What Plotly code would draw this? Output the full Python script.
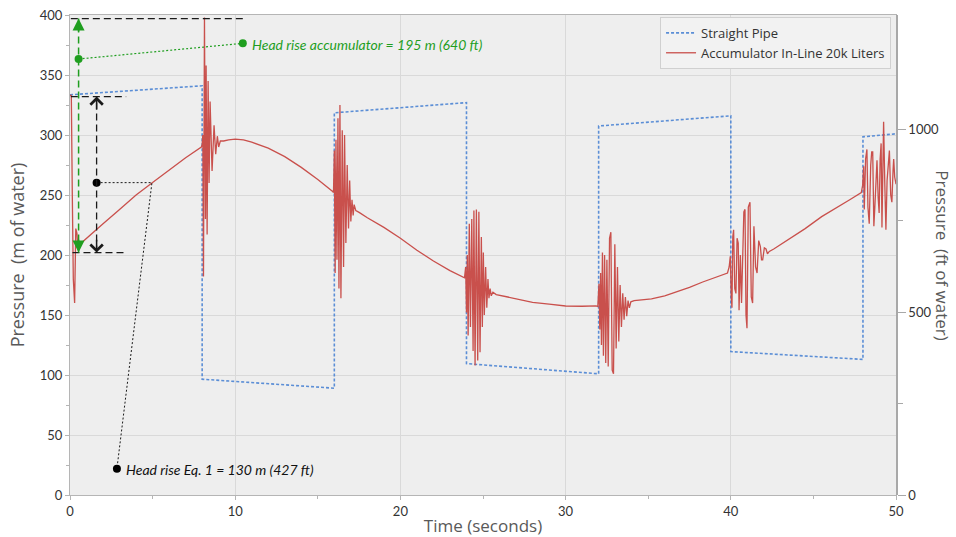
import plotly.graph_objects as go

# ---------------- data ----------------
# Straight pipe: head (m of water) vs time (s)
pipe_time = [0, 8, 8, 16, 16, 24, 24, 32, 32, 40, 40, 48, 48, 50]
pipe_head = [333.5, 341, 96.5, 89, 318.5, 327, 109.5, 101, 307.5, 316, 119.5, 113, 298.5, 301]

# Accumulator in-line 20k liters: head (m of water) vs time (s), segment by segment
acc_t_start = [0, 0.08, 0.14, 0.2, 0.28, 0.35, 0.42, 0.48, 0.6, 1, 2, 3, 4, 5, 6, 7, 7.95]
acc_h_start = [333, 333, 250, 180, 160, 222, 218, 204, 209, 214, 226, 238, 250, 260.5, 271, 281, 290]

acc_t_8 = [8.0, 8.04, 8.08, 8.14, 8.2, 8.24, 8.3, 8.36, 8.42, 8.48, 8.6, 8.72, 8.82, 8.92, 9.0, 9.1,
           9.3, 9.6, 10, 10.5, 11, 12, 13, 14, 15, 15.9]
acc_h_8 = [292, 300, 182, 398, 230, 358, 217, 345, 260, 328, 270, 308, 284, 299, 290, 295,
           295, 296, 296.5, 296, 294, 289, 282, 273, 263, 253]

acc_t_16 = [15.95, 16.0, 16.05, 16.1, 16.16, 16.22, 16.28, 16.34, 16.4, 16.48, 16.56, 16.62, 16.7,
            16.78, 16.86, 16.93, 17.0, 17.07, 17.14, 17.2, 17.3, 17.5, 18, 19, 20, 21, 22, 23, 23.88]
acc_h_16 = [252, 287, 185, 296, 196, 314, 172, 325, 164, 304, 190, 300, 210,
            275, 222, 262, 228, 246, 233, 242, 237, 235.5, 231, 223, 214, 204, 195, 187, 181]

acc_t_24 = [23.95, 24.0, 24.05, 24.1, 24.17, 24.24, 24.32, 24.4, 24.45, 24.52, 24.6, 24.68, 24.75,
            24.82, 24.9, 24.96, 25.02, 25.08, 25.16, 25.23, 25.3, 25.36, 25.43, 25.5, 25.6, 25.8,
            26.5, 27.3, 28, 29, 30, 31, 31.85]
acc_h_24 = [190, 152, 200, 133, 226, 140, 230, 120, 237, 108, 238, 112, 236,
            119, 215, 140, 202, 150, 190, 156, 180, 164, 172, 166, 169, 167,
            165, 162.5, 160.5, 159, 157.5, 157.3, 157.6]

acc_t_32 = [31.95, 32.02, 32.07, 32.12, 32.17, 32.23, 32.29, 32.36, 32.43, 32.5, 32.58, 32.66, 32.74,
            32.82, 32.9, 32.98, 33.06, 33.14, 33.22, 33.3, 33.38, 33.46, 33.54, 33.62, 33.7, 33.78,
            33.86, 33.95, 34.15, 35.2, 36, 36.8, 37.5, 38.3, 39, 39.8]
acc_h_32 = [157, 176, 138, 185, 125, 202, 116, 200, 110, 196, 107, 214, 219,
            104, 101, 209, 122, 190, 128, 175, 140, 168, 146, 165, 149, 162,
            156, 161, 162, 163.5, 166, 169.7, 173, 177.5, 181, 185]

acc_t_40 = [39.9, 39.97, 40.03, 40.07, 40.12, 40.17, 40.24, 40.31, 40.38, 40.45, 40.5, 40.58, 40.65,
            40.72, 40.79, 40.86, 40.92, 40.98, 41.06, 41.16, 41.24, 41.32, 41.4, 41.5, 41.59, 41.69,
            41.79, 41.86, 41.93, 42.03, 42.13, 42.22, 42.33, 42.6, 43.5, 44.5, 45.5, 46.5, 47.2, 47.9]
acc_h_40 = [190, 199, 165, 156, 215, 221, 172, 168, 214, 210, 154, 200, 160,
            190, 236, 238, 150, 139, 240, 244, 165, 160, 224, 190, 185, 212,
            207, 196, 196, 206, 205, 201, 203, 205, 213, 222, 232, 240, 246, 252]

acc_t_48 = [47.98, 48.04, 48.08, 48.16, 48.24, 48.3, 48.38, 48.47, 48.53, 48.59, 48.66, 48.72, 48.8,
            48.85, 48.92, 48.98, 49.04, 49.1, 49.15, 49.2, 49.25, 49.32, 49.39, 49.46, 49.53, 49.6,
            49.68, 49.75, 49.82, 49.86, 49.92, 50.0]
acc_h_48 = [258, 274, 238, 280, 288, 240, 226, 275, 286, 286, 224, 240, 270,
            279, 248, 235, 280, 293, 223, 270, 311, 260, 221, 262, 280, 287,
            250, 244, 270, 280, 265, 259]

acc_time = acc_t_start + acc_t_8 + acc_t_16 + acc_t_24 + acc_t_32 + acc_t_40 + acc_t_48
acc_head = acc_h_start + acc_h_8 + acc_h_16 + acc_h_24 + acc_h_32 + acc_h_40 + acc_h_48

# Head-rise call-outs (m of water)
base_head = 202
head_rise_eq1 = 130       # 427 ft
head_rise_acc = 195       # 640 ft

M_TO_FT = 1 / 0.3048
Y_MAX = 400

GREEN = "#1f9e1f"
BLACK = "#1a1a1a"
BLUE = "#5b8ed6"
RED = "#c9504c"

fig = go.Figure()

fig.add_trace(go.Scatter(
    x=pipe_time, y=pipe_head, mode="lines", name="Straight Pipe",
    line=dict(color=BLUE, width=1.6, dash="3px,2px"),
))
fig.add_trace(go.Scatter(
    x=acc_time, y=acc_head, mode="lines", name="Accumulator In-Line 20k Liters",
    line=dict(color=RED, width=1.3),
))

# dummy trace on the secondary (ft) axis so it is rendered
fig.add_trace(go.Scatter(x=[None], y=[None], yaxis="y2", showlegend=False, hoverinfo="skip"))

# ---- head-rise call-outs ----
acc_x = 0.52
eq_x = 1.61
acc_top = base_head + head_rise_acc
eq_top = base_head + head_rise_eq1
dash_long = "7px,4px"

shapes = [
    # reference levels
    dict(type="line", x0=0.05, x1=10.46, y0=acc_top, y1=acc_top, line=dict(color=BLACK, width=1.3, dash=dash_long)),
    dict(type="line", x0=0.05, x1=3.4, y0=eq_top, y1=eq_top, line=dict(color=BLACK, width=1.3, dash=dash_long)),
    dict(type="line", x0=0.15, x1=3.4, y0=base_head, y1=base_head, line=dict(color=BLACK, width=1.3, dash=dash_long)),
    # double-arrow shafts
    dict(type="line", x0=acc_x, x1=acc_x, y0=base_head, y1=acc_top, line=dict(color=GREEN, width=1.5, dash=dash_long)),
    dict(type="line", x0=eq_x, x1=eq_x, y0=base_head, y1=eq_top, line=dict(color=BLACK, width=1.3, dash=dash_long)),
]

# leader lines to the labels
eq_dot = (eq_x, 260.3)
eq_label = (2.84, 21.9)
acc_dot = (acc_x, 363.3)
acc_label = (10.46, 376.4)

fig.add_trace(go.Scatter(
    x=[eq_dot[0], 4.96, eq_label[0]], y=[eq_dot[1], eq_dot[1], eq_label[1]],
    mode="lines", line=dict(color=BLACK, width=1, dash="2px,2px"),
    showlegend=False, hoverinfo="skip"))
fig.add_trace(go.Scatter(
    x=[eq_dot[0], eq_label[0]], y=[eq_dot[1], eq_label[1]], mode="markers",
    marker=dict(color="#000000", size=8), showlegend=False, hoverinfo="skip"))
fig.add_trace(go.Scatter(
    x=[acc_dot[0], acc_label[0]], y=[acc_dot[1], acc_label[1]], mode="lines+markers",
    line=dict(color=GREEN, width=1.2, dash="2px,2px"),
    marker=dict(color=GREEN, size=8), showlegend=False, hoverinfo="skip"))

annotations = []
# arrowheads
for x, y, y_from, color, head in [
    (acc_x, acc_top, acc_top - 12, GREEN, 2),
    (acc_x, base_head, base_head + 12, GREEN, 2),
    (eq_x, eq_top, eq_top - 12, BLACK, 4),
    (eq_x, base_head, base_head + 12, BLACK, 4),
]:
    annotations.append(dict(
        x=x, y=y, ax=x, ay=y_from, xref="x", yref="y", axref="x", ayref="y",
        text="", showarrow=True, arrowhead=head, arrowsize=1.6, arrowwidth=1.5,
        arrowcolor=color, standoff=0))

annotations.append(dict(
    x=acc_label[0], y=acc_label[1], xref="x", yref="y", xanchor="left", yanchor="middle",
    xshift=7, yshift=-1, showarrow=False,
    text=f"<i>Head rise accumulator = {head_rise_acc} m ({round(head_rise_acc * M_TO_FT)} ft)</i>",
    font=dict(family="Lato, Open Sans, sans-serif", size=14, color=GREEN)))
annotations.append(dict(
    x=eq_label[0], y=eq_label[1], xref="x", yref="y", xanchor="left", yanchor="middle",
    xshift=7, yshift=-1, showarrow=False,
    text=f"<i>Head rise Eq. 1 = {head_rise_eq1} m ({round(head_rise_eq1 * M_TO_FT)} ft)</i>",
    font=dict(family="Lato, Open Sans, sans-serif", size=14, color="#111111")))
# right-hand axis title, reading downwards
annotations.append(dict(
    x=1.0565, y=0.5, xref="paper", yref="paper", xanchor="center", yanchor="middle",
    showarrow=False, textangle=90,
    text="Pressure  (ft of water)",
    font=dict(family="Open Sans, sans-serif", size=17, color="#595959")))

tick_font = dict(family="Lato, Open Sans, sans-serif", size=13, color="#333333")
title_font = dict(family="Open Sans, sans-serif", size=18, color="#595959")

fig.update_layout(
    width=956, height=537, autosize=False,
    margin=dict(l=70, r=60, t=15, b=42, autoexpand=False),
    paper_bgcolor="white", plot_bgcolor="#eeeeee",
    shapes=shapes, annotations=annotations,
    showlegend=True,
    legend=dict(
        x=0.994, y=0.996, xanchor="right", yanchor="top",
        bgcolor="#f2f2f2", bordercolor="#d0d0d0", borderwidth=1,
        font=dict(family="Open Sans, sans-serif", size=13, color="#333333"),
        tracegroupgap=0, itemwidth=30,
    ),
    xaxis=dict(
        range=[0, 50], dtick=10, tick0=0, automargin=False,
        showgrid=True, gridcolor="#d9d9d9", gridwidth=1, zeroline=False,
        showline=True, linecolor="#b5b5b5", linewidth=1, mirror=True,
        ticks="outside", ticklen=4, tickcolor="#b5b5b5",
        minor=dict(dtick=5, ticks="outside", ticklen=3, tickcolor="#b5b5b5", showgrid=False),
        tickfont=tick_font,
        title=dict(text="Time (seconds)", font=dict(family="Open Sans, sans-serif", size=17, color="#595959"), standoff=2),
    ),
    yaxis=dict(
        range=[0, Y_MAX], dtick=50, tick0=0, automargin=False,
        showgrid=True, gridcolor="#d9d9d9", gridwidth=1, zeroline=False,
        showline=True, linecolor="#b5b5b5", linewidth=1, mirror=True,
        ticks="outside", ticklen=4, tickcolor="#b5b5b5",
        minor=dict(dtick=25, ticks="outside", ticklen=3, tickcolor="#b5b5b5", showgrid=False),
        tickfont=tick_font,
        title=dict(text="Pressure  (m of water)", font=title_font, standoff=10),
    ),
    yaxis2=dict(
        range=[0, Y_MAX * M_TO_FT], overlaying="y", side="right", automargin=False,
        tickvals=[0, 500, 1000], showgrid=False, zeroline=False,
        showline=True, linecolor="#a8a8a8", linewidth=1.5,
        ticks="outside", ticklen=8, tickcolor="#a8a8a8",
        minor=dict(tickvals=[250, 750], ticks="outside", ticklen=5, tickcolor="#a8a8a8"),
        tickfont=tick_font,
    ),
)

fig.write_html("out.html")
